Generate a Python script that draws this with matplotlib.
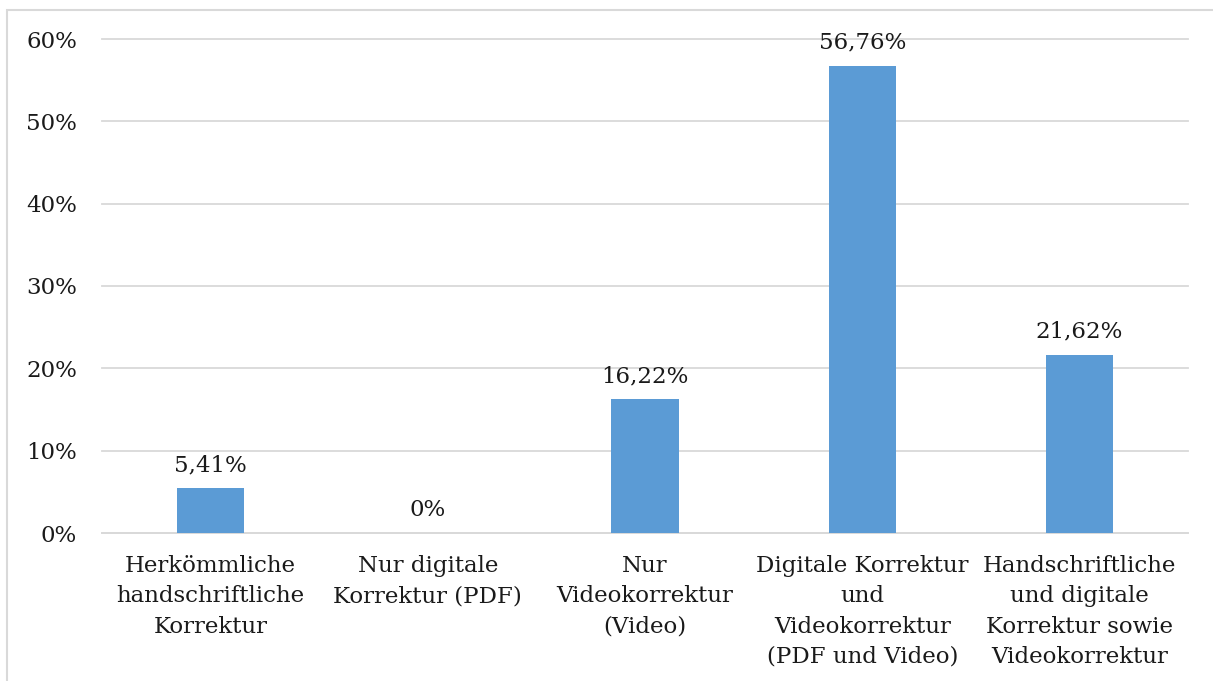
import matplotlib.pyplot as plt
from matplotlib.patches import Rectangle
from matplotlib.ticker import FuncFormatter

# Kategorien und Werte (Anteil in %)
kategorien = ['Herkömmliche\nhandschriftliche\nKorrektur',
              'Nur digitale\nKorrektur (PDF)',
              'Nur\nVideokorrektur\n(Video)',
              'Digitale Korrektur\nund\nVideokorrektur\n(PDF und Video)',
              'Handschriftliche\nund digitale\nKorrektur sowie\nVideokorrektur']
werte = [5.41, 0.0, 16.22, 56.76, 21.62]
wert_labels = ['5,41%', '0%', '16,22%', '56,76%', '21,62%']

plt.rcParams['font.family'] = ['DejaVu Serif']
W, H = 1213, 681
fs = 16.5
fig = plt.figure(figsize=(W / 100, H / 100), dpi=100)
ax = fig.add_axes([102 / W, 148 / H, (1188 - 102) / W, (533 - 39) / H])

# Rahmen des Diagrammbereichs (rechts/unten abgeschnitten)
fig.patches.append(Rectangle((7 / W, -0.1), 1.2, (H - 10) / H + 0.1,
                             transform=fig.transFigure, fill=False,
                             edgecolor='#d9d9d9', linewidth=1.5))

x = range(len(werte))
ax.bar(x, werte, width=0.31, color='#5b9bd5', zorder=3)
for xi, v, lab in zip(x, werte, wert_labels):
    ax.annotate(lab, (xi, v), xytext=(0, 9), textcoords='offset points',
                ha='center', va='bottom', fontsize=fs, color='#1a1a1a', zorder=4)

ax.set_xlim(-0.5, len(werte) - 0.5)
ax.set_ylim(0, 60)
ax.set_yticks(range(0, 61, 10))
ax.yaxis.set_major_formatter(FuncFormatter(lambda v, p: f'{int(v)}%'))
ax.set_xticks(list(x))
ax.set_xticklabels(kategorien, fontsize=fs, linespacing=1.48, color='#1a1a1a')
ax.tick_params(axis='y', labelsize=fs, length=0, pad=18, labelcolor='#1a1a1a')
ax.tick_params(axis='x', length=0, pad=16)
ax.grid(axis='y', color='#d9d9d9', linewidth=1.3, zorder=0)
for gl in ax.get_ygridlines():
    gl.set_clip_on(False)
for s in ['top', 'right', 'left']:
    ax.spines[s].set_visible(False)
ax.spines['bottom'].set_color('#d9d9d9')
ax.spines['bottom'].set_linewidth(1.3)

fig.savefig('out.png', dpi=100)
